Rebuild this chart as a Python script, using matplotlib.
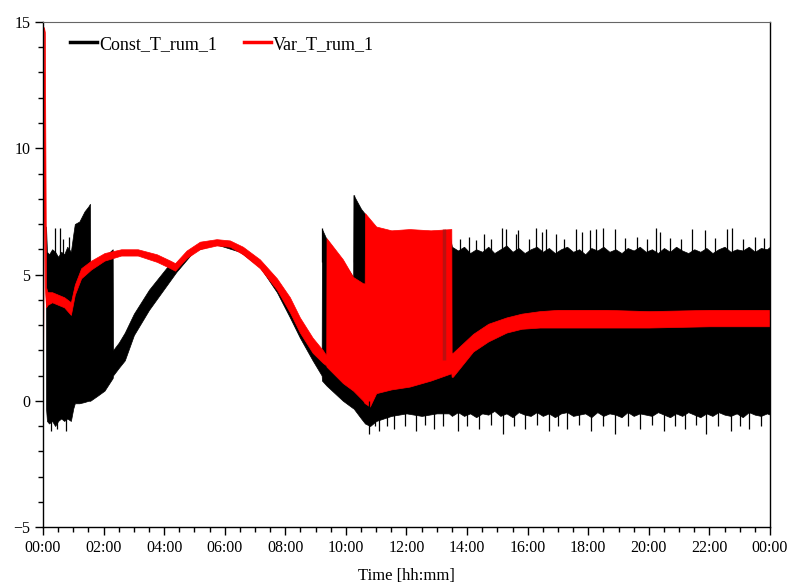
import matplotlib.pyplot as plt
from matplotlib.lines import Line2D
from matplotlib.ticker import MultipleLocator

plt.rcParams["font.family"] = ["Liberation Serif", "DejaVu Serif"]

# time in hours, band envelopes
const_t = [0.10, 0.13, 0.20, 0.30, 0.40, 0.50, 0.60, 0.70, 0.80, 0.92, 1.00, 1.05,
           1.20, 1.37, 1.50, 1.55, 1.56, 1.80, 2.03, 2.30, 2.31, 2.50, 2.70, 3.00,
           3.50, 4.10, 4.40, 5.00, 5.70, 6.50, 7.16, 7.72, 8.15, 8.48, 8.90, 9.20,
           9.21, 9.36, 9.90, 10.24, 10.25, 10.50, 10.63, 10.80, 11.00, 11.50, 12.00,
           12.50, 13.00, 13.40, 13.50, 13.70, 13.90, 14.10, 14.30, 14.50, 14.70,
           14.90, 15.10, 15.30, 15.50, 15.70, 15.90, 16.10, 16.30, 16.50, 16.70,
           16.90, 17.10, 17.30, 17.50, 17.70, 17.90, 18.10, 18.30, 18.50, 18.70,
           18.90, 19.10, 19.30, 19.50, 19.70, 19.90, 20.10, 20.30, 20.50, 20.70,
           20.90, 21.10, 21.30, 21.50, 21.70, 21.90, 22.10, 22.30, 22.50, 22.70,
           22.90, 23.10, 23.30, 23.50, 23.70, 23.90, 24.00]
const_lo = [-0.3, -0.8, -0.9, -0.8, -1.0, -0.8, -0.7, -0.8, -0.7, -0.8, -0.3, -0.1,
            -0.1, -0.05, 0.0, 0.0, 0.0, 0.2, 0.4, 0.9, 1.0, 1.3, 1.6, 2.6,
            3.6, 4.6, 5.1, 5.95, 6.2, 5.9, 5.3, 4.3, 3.3, 2.5, 1.6, 1.0,
            0.8, 0.6, 0.0, -0.3, -0.3, -0.7, -0.9, -1.0, -0.8, -0.6, -0.5,
            -0.6, -0.5, -0.5, -0.6, -0.45, -0.6, -0.5, -0.65, -0.5, -0.55,
            -0.4, -0.6, -0.5, -0.65, -0.45, -0.55, -0.6, -0.45, -0.6, -0.5,
            -0.65, -0.5, -0.45, -0.6, -0.55, -0.5, -0.65, -0.45, -0.6, -0.5,
            -0.55, -0.65, -0.45, -0.6, -0.5, -0.55, -0.6, -0.45, -0.55, -0.65,
            -0.5, -0.6, -0.45, -0.55, -0.65, -0.5, -0.6, -0.45, -0.55, -0.6,
            -0.5, -0.65, -0.45, -0.55, -0.6, -0.5, -0.55]
const_hi = [6.9, 5.9, 5.8, 6.0, 5.9, 5.7, 5.9, 5.8, 6.1, 5.9, 6.6, 7.0,
            7.1, 7.5, 7.7, 7.8, 5.3, 5.5, 5.7, 6.0, 2.0, 2.3, 2.7, 3.45,
            4.4, 5.3, 5.45, 6.0, 6.3, 6.05, 5.5, 4.7, 3.9, 3.1, 2.3, 1.9,
            6.8, 6.4, 5.5, 4.9, 8.15, 7.6, 7.4, 7.0, 6.8, 6.7, 6.7,
            6.7, 6.7, 6.7, 6.1, 5.95, 6.1, 5.85, 6.0, 5.9, 6.1,
            5.85, 6.0, 6.15, 5.9, 6.05, 5.85, 6.0, 6.1, 5.9, 6.05,
            5.85, 6.0, 6.1, 5.9, 6.0, 5.8, 6.05, 5.95, 6.1, 5.9,
            6.0, 5.85, 6.05, 5.95, 6.1, 5.9, 6.0, 5.85, 6.05, 5.9,
            6.1, 5.95, 5.85, 6.0, 5.9, 6.05, 5.85, 6.0, 6.1, 5.9,
            6.0, 5.95, 6.1, 5.9, 6.05, 6.0, 6.1]

const_spike_t = [0.40, 0.56, 0.65, 0.85, 9.22, 10.26, 13.75, 14.05, 14.30, 14.55,
                 14.80, 15.14, 15.30, 15.63, 15.69, 16.05, 16.29, 16.46, 16.62,
                 16.95, 17.20, 17.61, 17.78, 18.05, 18.27, 18.49, 18.88, 19.20,
                 19.60, 19.95, 20.25, 20.36, 20.70, 21.05, 21.41, 21.85, 22.20,
                 22.57, 22.73, 23.10, 23.50, 23.80]
const_spike_hi = [6.85, 6.85, 6.4, 6.5, 6.85, 8.15, 6.4, 6.5, 6.35, 6.6,
                  6.4, 6.85, 6.8, 6.6, 6.75, 6.4, 6.85, 6.7, 6.8,
                  6.6, 6.4, 6.8, 6.7, 6.75, 6.8, 6.85, 6.8, 6.45,
                  6.5, 6.4, 6.85, 6.7, 6.45, 6.4, 6.8, 6.75, 6.45,
                  6.8, 6.85, 6.4, 6.5, 6.45]
const_dip_t = [0.25, 0.45, 0.75, 10.75, 10.95, 11.10, 11.35, 11.60, 11.95, 12.30,
               12.60, 12.90, 13.20, 13.70, 14.00, 14.40, 14.80, 15.20, 15.55,
               15.90, 16.30, 16.70, 17.00, 17.30, 17.70, 18.10, 18.50, 18.90,
               19.30, 19.70, 20.10, 20.50, 20.85, 21.20, 21.55, 21.90, 22.30,
               22.70, 23.00, 23.30, 23.70]
const_dip_lo = [-1.2, -1.1, -1.2, -1.3, -1.0, -1.2, -1.0, -1.1, -1.0, -1.2,
                -0.95, -1.1, -1.0, -1.2, -1.0, -1.1, -0.95, -1.3, -1.0,
                -1.1, -0.95, -1.2, -1.0, -1.1, -0.95, -1.2, -1.0, -1.3,
                -1.0, -1.1, -0.95, -1.2, -1.0, -1.1, -0.95, -1.3, -1.0,
                -1.2, -1.0, -1.1, -1.0]

var_t = [0.00, 0.03, 0.06, 0.10, 0.15, 0.30, 0.50, 0.70, 0.92, 1.05, 1.26, 1.59,
         2.03, 2.58, 3.13, 3.76, 4.20, 4.36, 4.74, 5.18, 5.73, 6.17, 6.60, 7.16,
         7.72, 8.15, 8.48, 8.90, 9.24, 9.35, 9.36, 9.90, 10.24, 10.57, 10.62,
         10.63, 10.79, 11.00, 11.50, 12.10, 12.80, 13.48, 13.49, 13.53, 14.20,
         14.70, 15.30, 15.80, 16.40, 17.00, 18.60, 20.00, 22.00, 24.00]
var_lo = [-0.6, 13.0, 4.5, 3.7, 3.8, 3.9, 3.8, 3.7, 3.4, 4.2, 4.85, 5.2,
          5.55, 5.75, 5.75, 5.5, 5.25, 5.15, 5.65, 6.0, 6.15, 6.1, 5.8, 5.25,
          4.4, 3.5, 2.7, 1.9, 1.5, 1.4, 1.35, 0.7, 0.4, 0.0, -0.1,
          -0.1, -0.23, 0.3, 0.45, 0.56, 0.8, 1.09, 0.95, 0.95, 1.95,
          2.35, 2.7, 2.85, 2.9, 2.9, 2.9, 2.9, 2.95, 2.95]
var_hi = [0.0, 14.8, 14.6, 4.5, 4.3, 4.3, 4.2, 4.1, 3.9, 4.6, 5.25, 5.55,
          5.85, 6.0, 6.0, 5.8, 5.55, 5.45, 5.95, 6.3, 6.4, 6.35, 6.1, 5.6,
          4.85, 4.1, 3.3, 2.5, 2.0, 1.8, 6.44, 5.6, 4.9, 4.65, 4.65,
          7.43, 7.2, 6.9, 6.75, 6.8, 6.75, 6.8, 1.9, 1.9, 2.65,
          3.05, 3.3, 3.45, 3.55, 3.6, 3.6, 3.55, 3.6, 3.6]

dark_strip_t = [13.23]
dark_strip_lo = [1.6]
dark_strip_hi = [6.8]

hour_ticks = list(range(0, 25, 2))
hour_labels = ["00:00", "02:00", "04:00", "06:00", "08:00", "10:00", "12:00",
               "14:00", "16:00", "18:00", "20:00", "22:00", "00:00"]

fig = plt.figure(figsize=(7.92, 5.85), dpi=100)
ax = fig.add_axes([0.0543, 0.0991, 0.9179, 0.8633])

ax.fill_between(const_t, const_lo, const_hi, color="black", linewidth=0.5)
ax.vlines(const_spike_t, 5.5, const_spike_hi, color="black", linewidth=0.9)
ax.vlines(const_dip_t, const_dip_lo, 0.0, color="black", linewidth=0.9)
ax.fill_between(var_t, var_lo, var_hi, color="#ff0000", linewidth=0.5)
ax.vlines(dark_strip_t, dark_strip_lo, dark_strip_hi, color="#a01818", linewidth=2.5, alpha=0.7)

ax.set_xlim(0, 24)
ax.set_ylim(-5, 15)
ax.set_xticks(hour_ticks)
ax.set_xticklabels(hour_labels)
ax.xaxis.set_minor_locator(MultipleLocator(0.5))
ax.set_yticks([-5, 0, 5, 10, 15])
ax.yaxis.set_minor_locator(MultipleLocator(1))
ax.tick_params(which="major", direction="out", length=6, width=1, labelsize=11.5, pad=3)
ax.tick_params(which="minor", direction="out", length=3.5, width=1)
ax.set_xlabel("Time [hh:mm]", fontsize=12, labelpad=9)

for side in ["left", "bottom", "right"]:
    ax.spines[side].set_linewidth(1.0)
ax.spines["top"].set_color("#666666")
ax.spines["top"].set_linewidth(0.8)

handles = [Line2D([], [], color="black", linewidth=2.5),
           Line2D([], [], color="#ff0000", linewidth=2.5)]
ax.legend(handles, ["Const_T_rum_1", "Var_T_rum_1"], loc="upper left",
          bbox_to_anchor=(0.015, 1.005), ncol=2, frameon=False, fontsize=13,
          handlelength=1.5, handletextpad=0.1, columnspacing=1.5)

fig.savefig("out.png", dpi=100)
